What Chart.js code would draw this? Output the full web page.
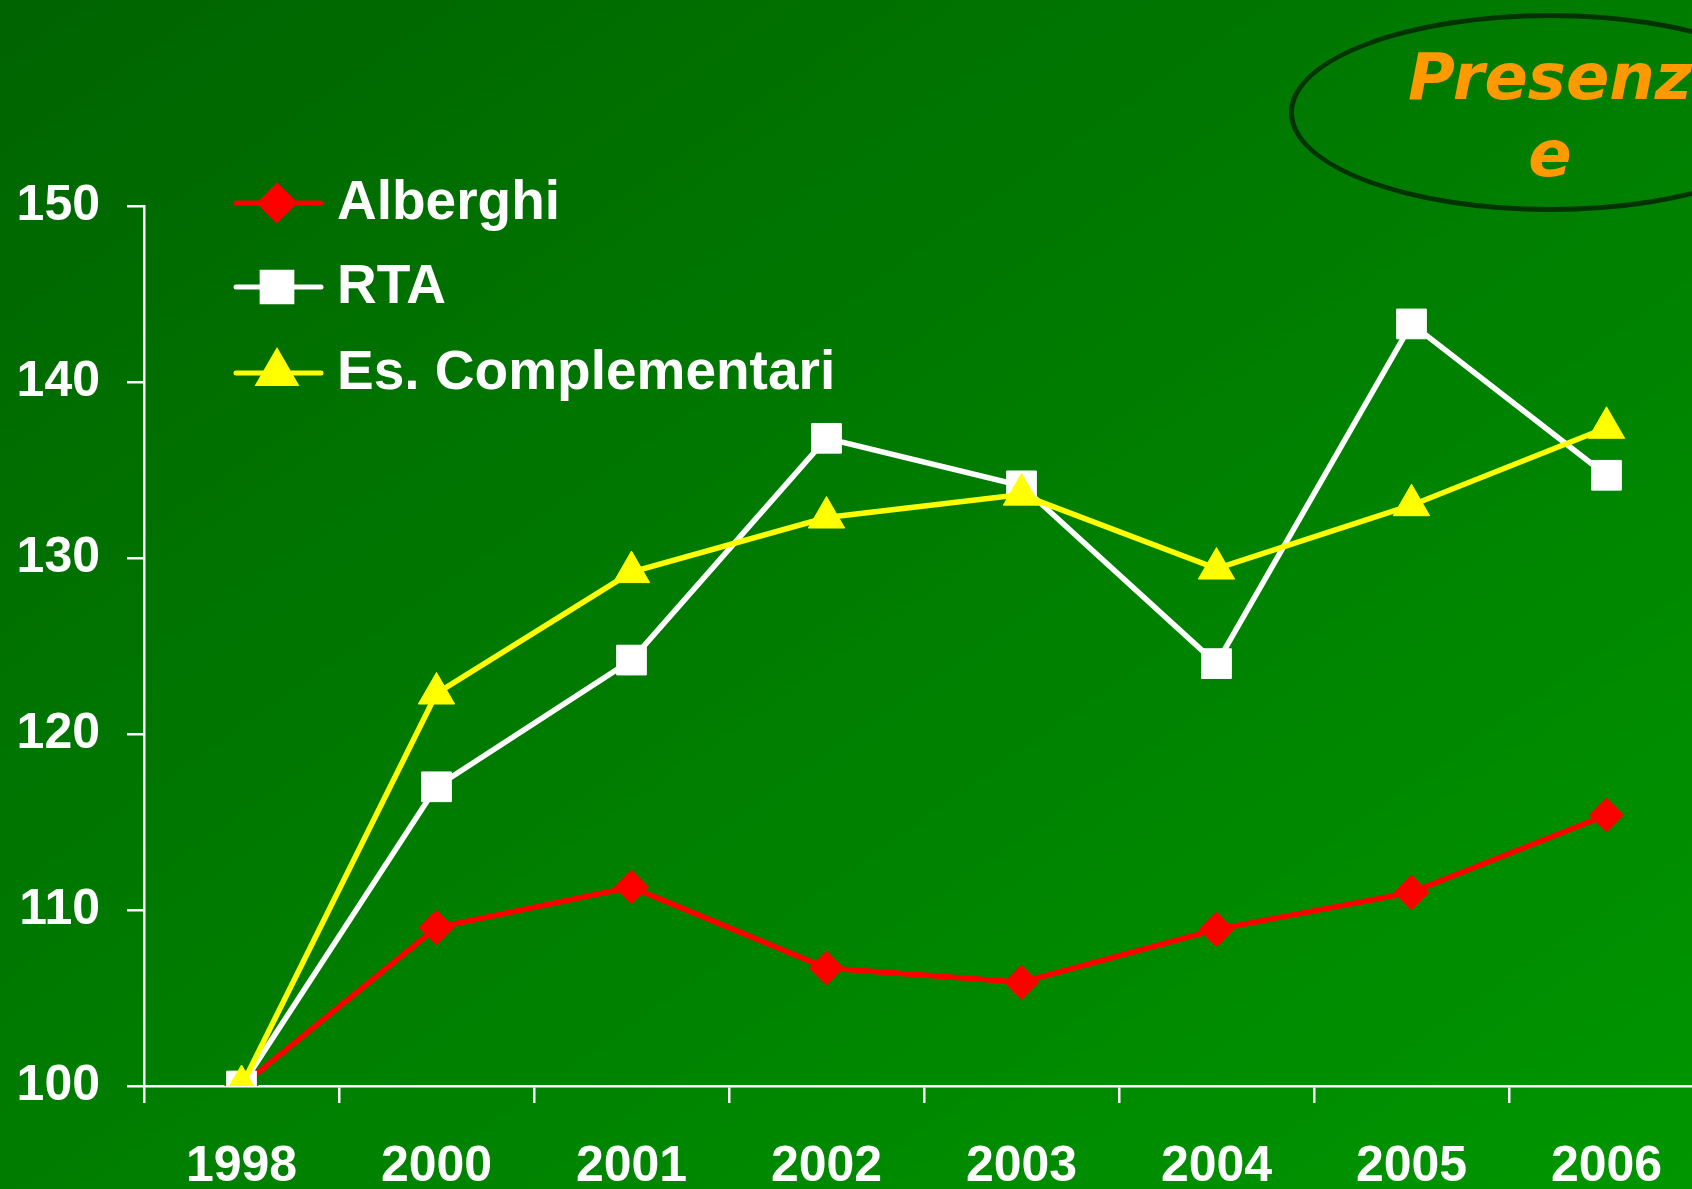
<!DOCTYPE html>
<html>
<head>
<meta charset="utf-8">
<script src="https://cdn.jsdelivr.net/npm/chart.js@4.4.1/dist/chart.umd.min.js"></script>
<style>
    html, body { margin: 0; padding: 0; overflow: hidden; }
    #slide {
        position: relative;
        width: 1692px;
        height: 1189px;
        overflow: hidden;
        background: linear-gradient(to bottom right, #006400, #009600);
    }
    #chart { position: absolute; left: 0; top: 0; width: 1740px; height: 1189px; }
    #badge {
        position: absolute;
        left: 1289px;
        top: 13px;
        width: 522px;
        height: 199px;
        box-sizing: border-box;
        border: 5px solid #003300;
        border-radius: 50%;
    }
    #badgeText {
        position: absolute;
        left: 1350px;
        top: 39px;
        width: 400px;
        text-align: center;
        white-space: nowrap;
        font: italic bold 64px "DejaVu Sans", sans-serif;
        line-height: 77px;
        color: #FF9900;
    }
</style>
</head>
<body>
<div id="slide">
    <canvas id="chart" width="1740" height="1189"></canvas>
    <div id="badge"></div>
    <div id="badgeText">Presenz<br>e</div>
</div>
<script>
'use strict';

const years = ['1998', '2000', '2001', '2002', '2003', '2004', '2005', '2006'];
const alberghi = [100, 109.0, 111.3, 106.7, 105.9, 108.9, 111.0, 115.4];
const rta = [100, 117.0, 124.2, 136.8, 134.1, 124.0, 143.3, 134.7];
const complementari = [100, 122.3, 129.2, 132.3, 133.6, 129.4, 133.0, 137.4];
const yTicks = [100, 110, 120, 130, 140, 150];

const FONT = '"Liberation Sans", Arial, sans-serif';

// legend drawn as line + marker, like the original slide
const lineLegend = {
    id: 'lineLegend',
    afterDraw(chart) {
        const ctx = chart.ctx;
        const rows = [203, 287, 373];
        ctx.save();
        chart.data.datasets.forEach((ds, i) => {
            const y = rows[i];
            ctx.strokeStyle = ds.borderColor;
            ctx.fillStyle = ds.borderColor;
            ctx.lineWidth = 5;
            ctx.lineCap = 'round';
            ctx.beginPath();
            ctx.moveTo(236, y);
            ctx.lineTo(321, y);
            ctx.stroke();
            Chart.helpers.drawPoint(ctx, {
                pointStyle: ds.pointStyle,
                radius: ds.pointRadius,
                rotation: 0,
                borderWidth: 1
            }, 277, y);
            ctx.fillStyle = '#FFFFFF';
            ctx.font = `bold 55px ${FONT}`;
            ctx.textBaseline = 'alphabetic';
            ctx.textAlign = 'left';
            ctx.fillText(ds.label, 337, y + 16);
        });
        ctx.restore();
    }
};

function series(label, data, color, style, radius, order) {
    return {
        label: label,
        data: data,
        borderColor: color,
        backgroundColor: color,
        pointBackgroundColor: color,
        pointBorderColor: color,
        borderWidth: 5.5,
        pointStyle: style,
        pointRadius: radius,
        pointBorderWidth: 1,
        tension: 0,
        order: order
    };
}

new Chart(document.getElementById('chart'), {
    type: 'line',
    data: {
        labels: years,
        datasets: [
            series('Alberghi', alberghi, '#FF0000', 'rectRot', 17, 3),
            series('RTA', rta, '#FFFFFF', 'rect', 21, 2),
            series('Es. Complementari', complementari, '#FFFF00', 'triangle', 21, 1)
        ]
    },
    options: {
        responsive: false,
        animation: false,
        events: [],
        layout: { padding: { top: 206, right: 36, bottom: 0, left: 0 } },
        plugins: {
            legend: { display: false },
            tooltip: { enabled: false }
        },
        scales: {
            x: {
                type: 'category',
                offset: true,
                grid: {
                    offset: true,
                    drawOnChartArea: false,
                    drawTicks: true,
                    tickLength: 17,
                    color: '#FFFFFF',
                    lineWidth: 2.5
                },
                border: { display: true, color: '#FFFFFF', width: 2.5 },
                ticks: {
                    color: '#FFFFFF',
                    font: { family: FONT, size: 50, weight: 'bold' },
                    padding: 34,
                    maxRotation: 0,
                    autoSkip: false
                },
                afterFit(scale) {
                    scale.height = 103;
                    scale.paddingLeft = 0;
                    scale.paddingRight = 0;
                }
            },
            y: {
                min: yTicks[0],
                max: yTicks[yTicks.length - 1],
                grid: {
                    drawOnChartArea: false,
                    drawTicks: true,
                    tickLength: 17,
                    color: '#FFFFFF',
                    lineWidth: 2.5
                },
                border: { display: true, color: '#FFFFFF', width: 2.5 },
                ticks: {
                    color: '#FFFFFF',
                    font: { family: FONT, size: 50, weight: 'bold' },
                    padding: 27
                },
                afterBuildTicks(scale) {
                    scale.ticks = yTicks.map(v => ({ value: v }));
                },
                afterFit(scale) { scale.width = 144; }
            }
        }
    },
    plugins: [lineLegend]
});
</script>
</body>
</html>
